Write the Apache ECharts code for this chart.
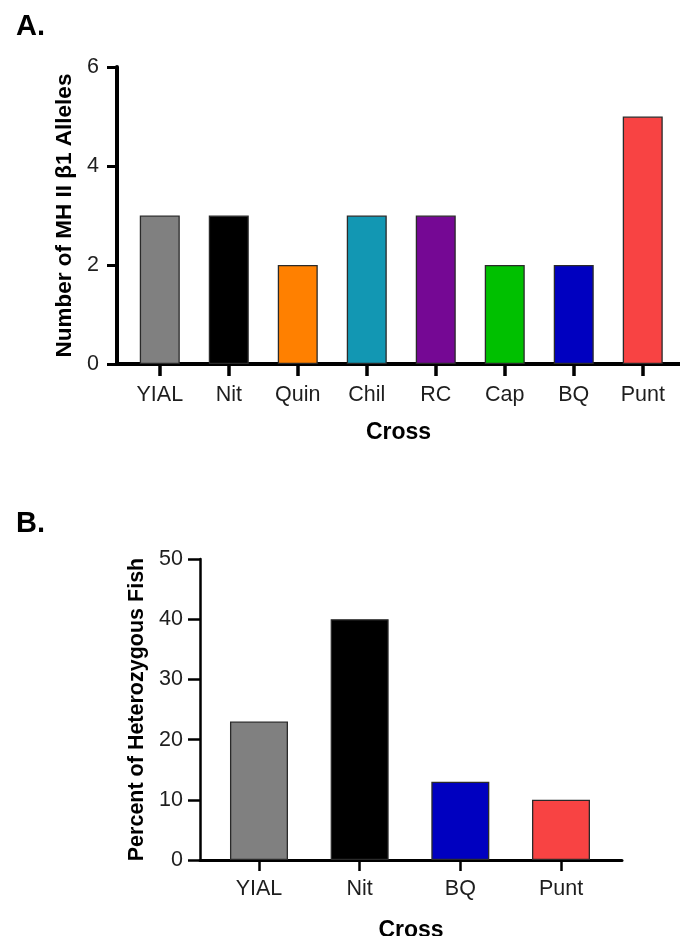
<!DOCTYPE html>
<html>
<head>
<meta charset="utf-8">
<script src="https://cdn.jsdelivr.net/npm/echarts@6/dist/echarts.min.js"></script>
<style>
	html, body { margin: 0; padding: 0; background: #fff; }
	#chart { width: 680px; height: 936px; }
</style>
</head>
<body>
<div id="chart"></div>
<script>
	// panel A: number of alleles per cross
	var crossA = ['YIAL', 'Nit', 'Quin', 'Chil', 'RC', 'Cap', 'BQ', 'Punt']
	var allelesA = [3, 3, 2, 3, 3, 2, 2, 5]
	var colorsA = ['#808080', '#000000', '#ff8000', '#1297b3', '#750894', '#00c000', '#0000c0', '#f84343']
	var ticksA = [0, 2, 4, 6]

	// panel B: percent heterozygous fish
	var crossB = ['YIAL', 'Nit', 'BQ', 'Punt']
	var percentB = [23, 40, 13, 10]
	var colorsB = ['#808080', '#000000', '#0000c0', '#f84343']
	var ticksB = [0, 10, 20, 30, 40, 50]

	var font = 'Liberation Sans, Arial, sans-serif'
	var labelColor = '#1e1e1e'

	function barData(values, colors) {
		var out = []
		for (var i = 0; i < values.length; i++) {
			out.push({
				value: [i, values[i]],
				itemStyle: { color: colors[i], borderColor: '#2a2a2a', borderWidth: 1.3 }
			})
		}
		return out
	}

	function idx(list) {
		var out = []
		for (var i = 0; i < list.length; i++) out.push(i)
		return out
	}

	var chart = echarts.init(document.getElementById('chart'), null, { renderer: 'canvas' })

	var option = {
		animation: false,
		backgroundColor: '#ffffff',
		title: [
			{ text: 'A.', left: 11, top: 7, textStyle: { fontFamily: font, fontWeight: 'bold', fontSize: 29, color: '#000' } },
			{ text: 'B.', left: 11, top: 504, textStyle: { fontFamily: font, fontWeight: 'bold', fontSize: 29, color: '#000' } }
		],
		grid: [
			{ left: 117, top: 67, width: 563, height: 297, outerBoundsMode: 'none' },
			{ left: 200, top: 559, width: 422, height: 301, outerBoundsMode: 'none' }
		],
		xAxis: [
			{
				type: 'value', gridIndex: 0, min: -0.62, max: 7.54,
				name: 'Cross', nameLocation: 'middle', nameGap: 57,
				nameTextStyle: { fontFamily: font, fontWeight: 'bold', fontSize: 23, color: '#000' },
				splitLine: { show: false },
				axisLine: { show: true, onZero: false, lineStyle: { color: '#000', width: 4 } },
				axisTick: { show: true, customValues: idx(crossA), length: 12, lineStyle: { color: '#000', width: 3.5 } },
				axisLabel: {
					customValues: idx(crossA), margin: 20,
					fontFamily: font, fontSize: 21.5, color: labelColor,
					formatter: function (v) { return crossA[v] }
				}
			},
			{
				type: 'value', gridIndex: 1, min: -0.586, max: 3.606,
				name: 'Cross', nameLocation: 'middle', nameGap: 59,
				nameTextStyle: { fontFamily: font, fontWeight: 'bold', fontSize: 23, color: '#000' },
				splitLine: { show: false },
				axisLine: { show: true, onZero: false, lineStyle: { color: '#000', width: 3 } },
				axisTick: { show: true, customValues: idx(crossB), length: 11, lineStyle: { color: '#000', width: 2.5 } },
				axisLabel: {
					customValues: idx(crossB), margin: 18,
					fontFamily: font, fontSize: 21.5, color: labelColor,
					formatter: function (v) { return crossB[v] }
				}
			}
		],
		yAxis: [
			{
				type: 'value', gridIndex: 0, min: 0, max: 6, interval: 2,
				name: 'Number of MH II \u03b21 Alleles', nameLocation: 'middle', nameGap: 29,
				nameTextStyle: { fontFamily: font, fontWeight: 'bold', fontSize: 22.5, color: '#000' },
				splitLine: { show: false },
				axisLine: { show: true, onZero: false, lineStyle: { color: '#000', width: 4 } },
				axisTick: { show: true, customValues: ticksA, length: 10, lineStyle: { color: '#000', width: 3 } },
				axisLabel: { customValues: ticksA, margin: 18, fontFamily: font, fontSize: 21.5, color: labelColor }
			},
			{
				type: 'value', gridIndex: 1, min: 0, max: 50, interval: 10,
				name: 'Percent of Heterozygous Fish', nameLocation: 'middle', nameGap: 51,
				nameTextStyle: { fontFamily: font, fontWeight: 'bold', fontSize: 21.5, color: '#000' },
				splitLine: { show: false },
				axisLine: { show: true, onZero: false, lineStyle: { color: '#000', width: 2.5 } },
				axisTick: { show: true, customValues: ticksB, length: 12, lineStyle: { color: '#000', width: 2.5 } },
				axisLabel: { customValues: ticksB, margin: 17, fontFamily: font, fontSize: 21.5, color: labelColor }
			}
		],
		series: [
			{
				type: 'bar', xAxisIndex: 0, yAxisIndex: 0,
				barWidth: 40, data: barData(allelesA, colorsA)
			},
			{
				type: 'bar', xAxisIndex: 1, yAxisIndex: 1,
				barWidth: 58, data: barData(percentB, colorsB)
			}
		]
	}

	chart.setOption(option)
</script>
</body>
</html>
